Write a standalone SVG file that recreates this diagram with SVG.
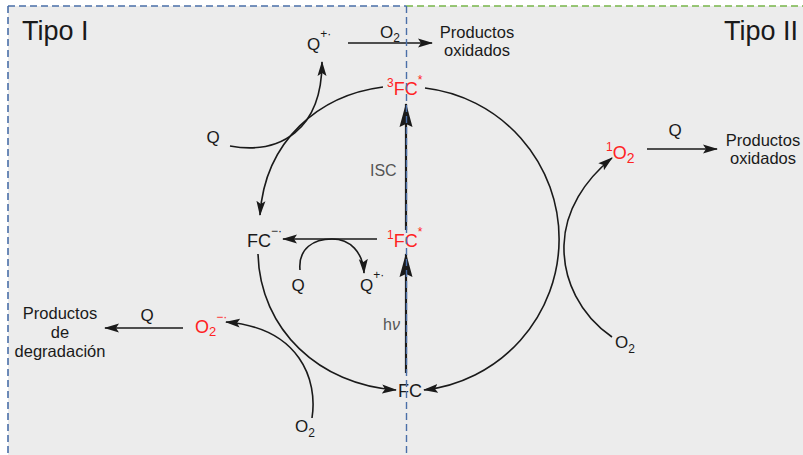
<svg xmlns="http://www.w3.org/2000/svg" width="803" height="455" viewBox="0 0 803 455">
<style>
text{font-family:"Liberation Sans",Arial,sans-serif;fill:#1a1a1a}
.lbl{font-size:17px}
.prod{font-size:16.5px}
.big{font-size:18px}
.sup{font-size:12px}
.red{fill:#ff2222}
.gray{fill:#555;font-size:16px}
.title{font-size:27px}
.ln{fill:none;stroke:#1a1a1a;stroke-width:1.6}
.ln2{fill:none;stroke:#1a1a1a;stroke-width:2.2}
</style>
<defs>
<marker id="a" markerUnits="userSpaceOnUse" markerWidth="15" markerHeight="10" refX="14" refY="5" orient="auto">
<path d="M0,0.5 L15,5 L0,9.5 L3,5 z" fill="#1a1a1a"/>
</marker>
<marker id="b" markerUnits="userSpaceOnUse" markerWidth="24" markerHeight="14" refX="23" refY="7" orient="auto">
<path d="M0,0.5 L24,7 L0,13.5 L3,7 z" fill="#1a1a1a"/>
</marker>
</defs>
<rect x="0" y="0" width="803" height="455" fill="#fff"/>
<rect x="8" y="6" width="795" height="449" fill="#ececec"/>

<g id="connectors">
<path class="ln" d="M425,88 A152,152 0 0 1 424,390" marker-end="url(#a)"/>
<path class="ln" d="M383,87 C320,95 265,140 260,215" marker-end="url(#a)"/>
<path class="ln" d="M258,254 C260,330 320,385 396,390" marker-end="url(#a)"/>
<path class="ln" d="M230,146 C280,155 322,130 322,62" marker-end="url(#a)"/>
<path class="ln" d="M348,43 L432,43" marker-end="url(#a)"/>
<path class="ln2" d="M406,230 L406,104" marker-end="url(#b)"/>
<path class="ln2" d="M406,373 L406,254" marker-end="url(#b)"/>
<path class="ln" d="M377,239 L283,239" marker-end="url(#a)"/>
<path class="ln" d="M300,270 C298,248 314,239 332,239 C350,239 363,252 364,273" marker-end="url(#a)"/>
<path class="ln" d="M612,337 C580,315 563,280 564,245 C565,210 585,180 612,158" marker-end="url(#a)"/>
<path class="ln" d="M647,149 L717,149" marker-end="url(#a)"/>
<path class="ln" d="M312,418 C318,380 300,328 226,322" marker-end="url(#a)"/>
<path class="ln" d="M183,328 L105,328" marker-end="url(#a)"/>
</g>

<g id="tipo1"><text class="title" x="22" y="40">Tipo I</text></g>
<g id="tipo2"><text class="title" x="798" y="40" text-anchor="end">Tipo II</text></g>

<g id="FC3"><text class="big red" x="387" y="95"><tspan class="sup" dy="-8">3</tspan><tspan dy="8">FC</tspan><tspan class="sup" dy="-11">*</tspan></text></g>
<g id="FC1"><text class="big red" x="387" y="247"><tspan class="sup" dy="-8">1</tspan><tspan dy="8">FC</tspan><tspan class="sup" dy="-11">*</tspan></text></g>
<g id="FC0"><text class="big" x="398" y="397">FC</text></g>
<g id="FCrad"><text class="big" x="247" y="247">FC<tspan class="sup" dy="-12">−·</tspan></text></g>

<g id="isc"><text class="gray" x="370" y="176">ISC</text></g>
<g id="hv"><text class="gray" x="383" y="330">h<tspan font-style="italic">ν</tspan></text></g>

<g id="Qtop"><text class="lbl" x="213" y="143" text-anchor="middle">Q</text></g>
<g id="Qradtop"><text class="lbl" x="307" y="50">Q<tspan class="sup" dy="-12">+·</tspan></text></g>
<g id="O2top"><text class="lbl" x="380" y="38">O<tspan class="sup" dy="4">2</tspan></text></g>
<g id="prodtop"><text class="prod" x="477" y="38" text-anchor="middle">Productos</text><text class="prod" x="477" y="56" text-anchor="middle">oxidados</text></g>

<g id="Qmid"><text class="lbl" x="298" y="291" text-anchor="middle">Q</text></g>
<g id="Qradmid"><text class="lbl" x="360" y="291">Q<tspan class="sup" dy="-12">+·</tspan></text></g>

<g id="O2single"><text class="big red" x="606" y="159"><tspan class="sup" dy="-8">1</tspan><tspan dy="8">O</tspan><tspan font-size="14" dy="4">2</tspan></text></g>
<g id="Qright"><text class="lbl" x="675" y="136" text-anchor="middle">Q</text></g>
<g id="prodright"><text class="prod" x="763" y="146" text-anchor="middle">Productos</text><text class="prod" x="763" y="164" text-anchor="middle">oxidados</text></g>
<g id="O2right"><text class="lbl" x="615" y="348">O<tspan class="sup" dy="5">2</tspan></text></g>

<g id="O2sup"><text class="big red" x="195" y="333">O<tspan font-size="13" dy="3">2</tspan><tspan class="sup" dy="-15">−·</tspan></text></g>
<g id="O2bottom"><text class="lbl" x="295" y="432">O<tspan class="sup" dy="5">2</tspan></text></g>
<g id="Qleft"><text class="lbl" x="147" y="321" text-anchor="middle">Q</text></g>
<g id="prodleft"><text class="prod" x="60" y="319" text-anchor="middle">Productos</text><text class="prod" x="60" y="338" text-anchor="middle">de</text><text class="prod" x="60" y="357" text-anchor="middle">degradación</text></g>

<g id="dividers">
<line x1="8" y1="6" x2="406" y2="6" stroke="#4a6fa8" stroke-width="1.6" stroke-dasharray="7,4"/>
<line x1="406" y1="6" x2="803" y2="6" stroke="#77b54a" stroke-width="1.6" stroke-dasharray="7,4"/>
<line x1="8" y1="6" x2="8" y2="455" stroke="#4a6fa8" stroke-width="1.6" stroke-dasharray="7,4"/>
<line x1="406.5" y1="6" x2="406.5" y2="455" stroke="#4a6fa8" stroke-width="1.4" stroke-dasharray="7,4"/>
</g>
</svg>
